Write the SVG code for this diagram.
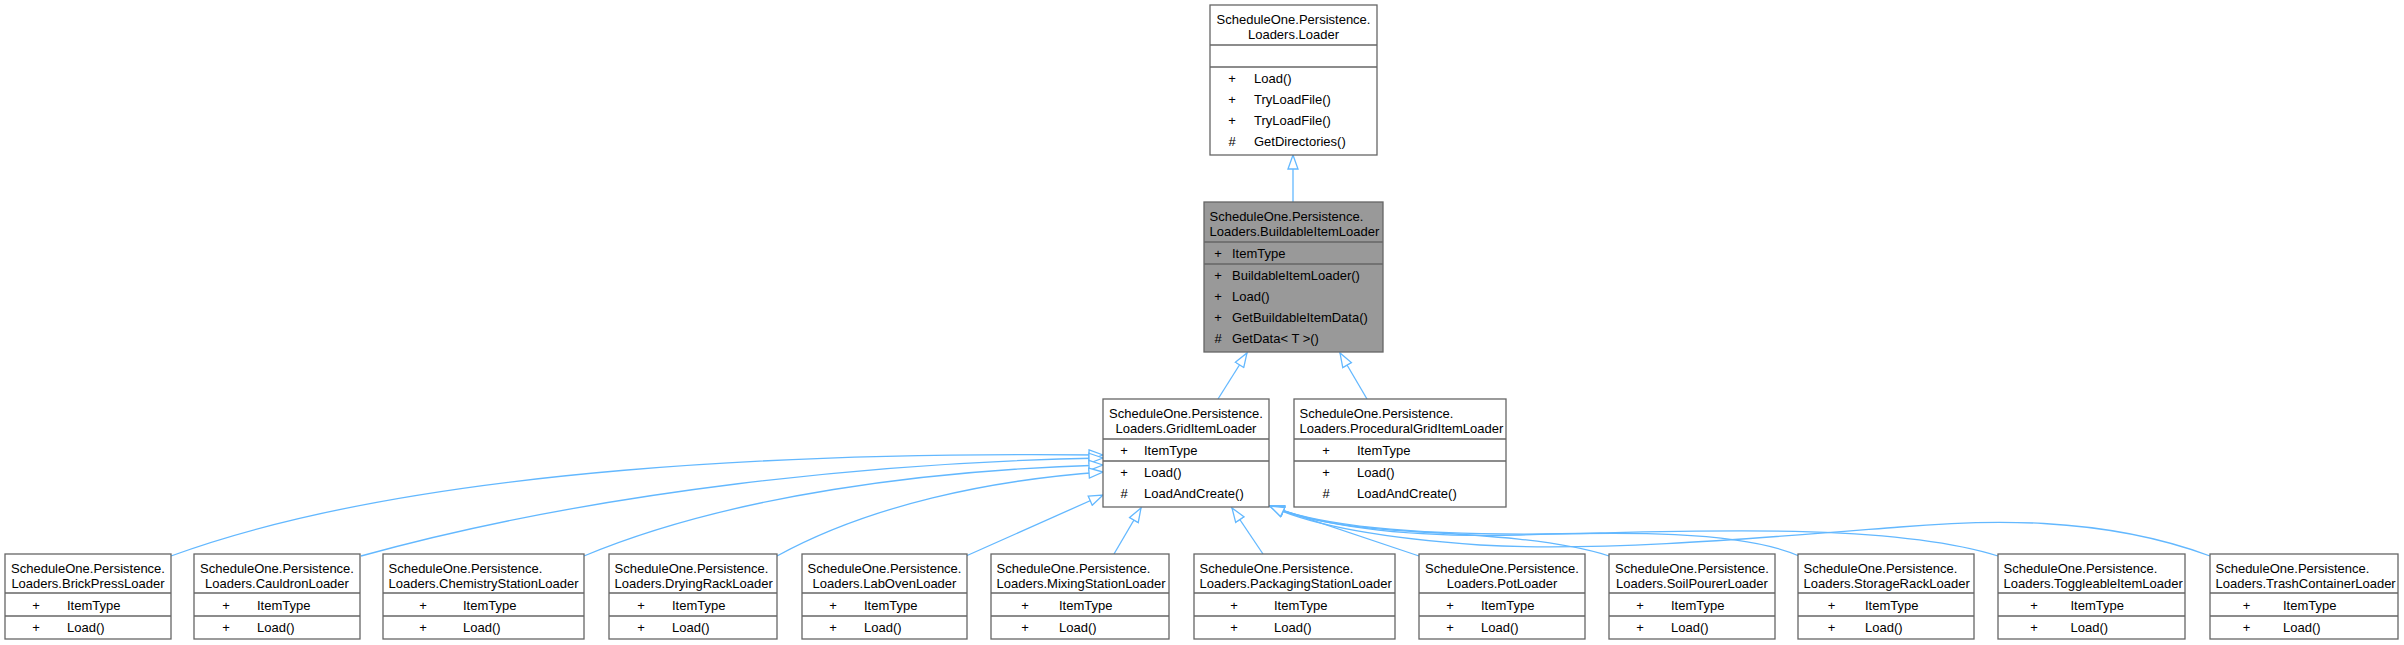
<svg xmlns="http://www.w3.org/2000/svg" width="2404" height="645" viewBox="0 0 2404 645">
<style>
rect.b{fill:#ffffff;stroke:#666666;stroke-width:1.3}
rect.hl{fill:#999999}
line.d{stroke:#666666;stroke-width:1.3}
text{font-family:"Liberation Sans",Arial,sans-serif;font-size:13px;fill:#000000}
text.c{text-anchor:middle}
path.e{fill:none;stroke:#63b8ff;stroke-width:1.3;marker-end:url(#inh)}
</style>
<defs>
<marker id="inh" markerUnits="userSpaceOnUse" markerWidth="16" markerHeight="12" viewBox="0 0 16 12" refX="15" refY="6" orient="auto">
<path d="M1,1 L15,6 L1,11 Z" fill="#ffffff" stroke="#63b8ff" stroke-width="1.3"/>
</marker>
</defs>
<rect width="2404" height="645" fill="#ffffff"/>
<g id="connectors">
<path class="e" d="M1293,202 L1293,155"/>
<path class="e" d="M1218,399 L1247,353"/>
<path class="e" d="M1367,399 L1340,353"/>
<path class="e" d="M171,556 C420,465 820,452 1103,455"/>
<path class="e" d="M361,556 C600,490 880,462 1103,458"/>
<path class="e" d="M584,556 C730,495 930,470 1103,465"/>
<path class="e" d="M777,556 C870,505 990,480 1103,472"/>
<path class="e" d="M966,556 L1103,495"/>
<path class="e" d="M1114,554 L1141,508"/>
<path class="e" d="M1263,554 L1232,508"/>
<path class="e" d="M1419,556 L1270,506"/>
<path class="e" d="M1609,556 C1560,540 1480,535 1420,532 C1350,528 1300,520 1270,506"/>
<path class="e" d="M1799,556 C1740,530 1620,532 1520,535 C1400,538 1320,525 1270,506"/>
<path class="e" d="M1998,556 C1900,525 1720,530 1600,533 C1450,537 1330,530 1270,506"/>
<path class="e" d="M2210,556 C2100,515 1980,520 1900,527 C1760,538 1600,552 1480,545 C1380,538 1310,525 1270,506"/>
</g>
<g id="node_loader">
<rect class="b" x="1210" y="5" width="167" height="150"/>
<line class="d" x1="1210" y1="45" x2="1377" y2="45"/>
<line class="d" x1="1210" y1="67" x2="1377" y2="67"/>
<text class="c" x="1293.5" y="23.5">ScheduleOne.Persistence.</text>
<text class="c" x="1293.5" y="38.5">Loaders.Loader</text>
<text class="c" x="1232" y="82.5">+</text><text x="1254" y="82.5">Load()</text>
<text class="c" x="1232" y="103.8">+</text><text x="1254" y="103.8">TryLoadFile()</text>
<text class="c" x="1232" y="125.1">+</text><text x="1254" y="125.1">TryLoadFile()</text>
<text class="c" x="1232" y="146.4">#</text><text x="1254" y="146.4">GetDirectories()</text>
</g>
<g id="node_buildable">
<rect class="b hl" x="1204" y="202" width="179" height="150"/>
<line class="d" x1="1204" y1="242" x2="1383" y2="242"/>
<line class="d" x1="1204" y1="264" x2="1383" y2="264"/>
<text x="1209.5" y="220.5">ScheduleOne.Persistence.</text>
<text x="1209.5" y="235.5">Loaders.BuildableItemLoader</text>
<text class="c" x="1218" y="257.5">+</text><text x="1232" y="257.5">ItemType</text>
<text class="c" x="1218" y="279.5">+</text><text x="1232" y="279.5">BuildableItemLoader()</text>
<text class="c" x="1218" y="300.8">+</text><text x="1232" y="300.8">Load()</text>
<text class="c" x="1218" y="322.1">+</text><text x="1232" y="322.1">GetBuildableItemData()</text>
<text class="c" x="1218" y="343.4">#</text><text x="1232" y="343.4">GetData&lt; T &gt;()</text>
</g>
<g id="node_grid">
<rect class="b" x="1103" y="399" width="166" height="108"/>
<line class="d" x1="1103" y1="439" x2="1269" y2="439"/>
<line class="d" x1="1103" y1="461" x2="1269" y2="461"/>
<text class="c" x="1186" y="417.5">ScheduleOne.Persistence.</text>
<text class="c" x="1186" y="432.5">Loaders.GridItemLoader</text>
<text class="c" x="1124" y="454.5">+</text><text x="1144" y="454.5">ItemType</text>
<text class="c" x="1124" y="476.5">+</text><text x="1144" y="476.5">Load()</text>
<text class="c" x="1124" y="497.8">#</text><text x="1144" y="497.8">LoadAndCreate()</text>
</g>
<g id="node_procedural">
<rect class="b" x="1294" y="399" width="212" height="108"/>
<line class="d" x1="1294" y1="439" x2="1506" y2="439"/>
<line class="d" x1="1294" y1="461" x2="1506" y2="461"/>
<text x="1299.5" y="417.5">ScheduleOne.Persistence.</text>
<text x="1299.5" y="432.5">Loaders.ProceduralGridItemLoader</text>
<text class="c" x="1326" y="454.5">+</text><text x="1357" y="454.5">ItemType</text>
<text class="c" x="1326" y="476.5">+</text><text x="1357" y="476.5">Load()</text>
<text class="c" x="1326" y="497.8">#</text><text x="1357" y="497.8">LoadAndCreate()</text>
</g>
<g id="node_brickpress">
<rect class="b" x="5" y="554" width="166" height="85"/>
<line class="d" x1="5" y1="593" x2="171" y2="593"/>
<line class="d" x1="5" y1="616" x2="171" y2="616"/>
<text class="c" x="88" y="572.5">ScheduleOne.Persistence.</text>
<text class="c" x="88" y="587.5">Loaders.BrickPressLoader</text>
<text class="c" x="36" y="609.5">+</text><text x="67" y="609.5">ItemType</text>
<text class="c" x="36" y="631.5">+</text><text x="67" y="631.5">Load()</text>
</g>
<g id="node_cauldron">
<rect class="b" x="194" y="554" width="166" height="85"/>
<line class="d" x1="194" y1="593" x2="360" y2="593"/>
<line class="d" x1="194" y1="616" x2="360" y2="616"/>
<text class="c" x="277" y="572.5">ScheduleOne.Persistence.</text>
<text class="c" x="277" y="587.5">Loaders.CauldronLoader</text>
<text class="c" x="226" y="609.5">+</text><text x="257" y="609.5">ItemType</text>
<text class="c" x="226" y="631.5">+</text><text x="257" y="631.5">Load()</text>
</g>
<g id="node_chemistry">
<rect class="b" x="383" y="554" width="201" height="85"/>
<line class="d" x1="383" y1="593" x2="584" y2="593"/>
<line class="d" x1="383" y1="616" x2="584" y2="616"/>
<text x="388.5" y="572.5">ScheduleOne.Persistence.</text>
<text x="388.5" y="587.5">Loaders.ChemistryStationLoader</text>
<text class="c" x="423" y="609.5">+</text><text x="463" y="609.5">ItemType</text>
<text class="c" x="423" y="631.5">+</text><text x="463" y="631.5">Load()</text>
</g>
<g id="node_dryingrack">
<rect class="b" x="609" y="554" width="168" height="85"/>
<line class="d" x1="609" y1="593" x2="777" y2="593"/>
<line class="d" x1="609" y1="616" x2="777" y2="616"/>
<text x="614.5" y="572.5">ScheduleOne.Persistence.</text>
<text x="614.5" y="587.5">Loaders.DryingRackLoader</text>
<text class="c" x="641" y="609.5">+</text><text x="672" y="609.5">ItemType</text>
<text class="c" x="641" y="631.5">+</text><text x="672" y="631.5">Load()</text>
</g>
<g id="node_laboven">
<rect class="b" x="802" y="554" width="165" height="85"/>
<line class="d" x1="802" y1="593" x2="967" y2="593"/>
<line class="d" x1="802" y1="616" x2="967" y2="616"/>
<text class="c" x="884.5" y="572.5">ScheduleOne.Persistence.</text>
<text class="c" x="884.5" y="587.5">Loaders.LabOvenLoader</text>
<text class="c" x="833" y="609.5">+</text><text x="864" y="609.5">ItemType</text>
<text class="c" x="833" y="631.5">+</text><text x="864" y="631.5">Load()</text>
</g>
<g id="node_mixing">
<rect class="b" x="991" y="554" width="178" height="85"/>
<line class="d" x1="991" y1="593" x2="1169" y2="593"/>
<line class="d" x1="991" y1="616" x2="1169" y2="616"/>
<text x="996.5" y="572.5">ScheduleOne.Persistence.</text>
<text x="996.5" y="587.5">Loaders.MixingStationLoader</text>
<text class="c" x="1025" y="609.5">+</text><text x="1059" y="609.5">ItemType</text>
<text class="c" x="1025" y="631.5">+</text><text x="1059" y="631.5">Load()</text>
</g>
<g id="node_packaging">
<rect class="b" x="1194" y="554" width="201" height="85"/>
<line class="d" x1="1194" y1="593" x2="1395" y2="593"/>
<line class="d" x1="1194" y1="616" x2="1395" y2="616"/>
<text x="1199.5" y="572.5">ScheduleOne.Persistence.</text>
<text x="1199.5" y="587.5">Loaders.PackagingStationLoader</text>
<text class="c" x="1234" y="609.5">+</text><text x="1274" y="609.5">ItemType</text>
<text class="c" x="1234" y="631.5">+</text><text x="1274" y="631.5">Load()</text>
</g>
<g id="node_pot">
<rect class="b" x="1419" y="554" width="166" height="85"/>
<line class="d" x1="1419" y1="593" x2="1585" y2="593"/>
<line class="d" x1="1419" y1="616" x2="1585" y2="616"/>
<text class="c" x="1502" y="572.5">ScheduleOne.Persistence.</text>
<text class="c" x="1502" y="587.5">Loaders.PotLoader</text>
<text class="c" x="1450" y="609.5">+</text><text x="1481" y="609.5">ItemType</text>
<text class="c" x="1450" y="631.5">+</text><text x="1481" y="631.5">Load()</text>
</g>
<g id="node_soilpourer">
<rect class="b" x="1609" y="554" width="166" height="85"/>
<line class="d" x1="1609" y1="593" x2="1775" y2="593"/>
<line class="d" x1="1609" y1="616" x2="1775" y2="616"/>
<text class="c" x="1692" y="572.5">ScheduleOne.Persistence.</text>
<text class="c" x="1692" y="587.5">Loaders.SoilPourerLoader</text>
<text class="c" x="1640" y="609.5">+</text><text x="1671" y="609.5">ItemType</text>
<text class="c" x="1640" y="631.5">+</text><text x="1671" y="631.5">Load()</text>
</g>
<g id="node_storagerack">
<rect class="b" x="1798" y="554" width="176" height="85"/>
<line class="d" x1="1798" y1="593" x2="1974" y2="593"/>
<line class="d" x1="1798" y1="616" x2="1974" y2="616"/>
<text x="1803.5" y="572.5">ScheduleOne.Persistence.</text>
<text x="1803.5" y="587.5">Loaders.StorageRackLoader</text>
<text class="c" x="1831.5" y="609.5">+</text><text x="1865" y="609.5">ItemType</text>
<text class="c" x="1831.5" y="631.5">+</text><text x="1865" y="631.5">Load()</text>
</g>
<g id="node_toggleable">
<rect class="b" x="1998" y="554" width="187" height="85"/>
<line class="d" x1="1998" y1="593" x2="2185" y2="593"/>
<line class="d" x1="1998" y1="616" x2="2185" y2="616"/>
<text x="2003.5" y="572.5">ScheduleOne.Persistence.</text>
<text x="2003.5" y="587.5">Loaders.ToggleableItemLoader</text>
<text class="c" x="2034" y="609.5">+</text><text x="2070.5" y="609.5">ItemType</text>
<text class="c" x="2034" y="631.5">+</text><text x="2070.5" y="631.5">Load()</text>
</g>
<g id="node_trash">
<rect class="b" x="2210" y="554" width="188" height="85"/>
<line class="d" x1="2210" y1="593" x2="2398" y2="593"/>
<line class="d" x1="2210" y1="616" x2="2398" y2="616"/>
<text x="2215.5" y="572.5">ScheduleOne.Persistence.</text>
<text x="2215.5" y="587.5">Loaders.TrashContainerLoader</text>
<text class="c" x="2246.5" y="609.5">+</text><text x="2283" y="609.5">ItemType</text>
<text class="c" x="2246.5" y="631.5">+</text><text x="2283" y="631.5">Load()</text>
</g>
</svg>
